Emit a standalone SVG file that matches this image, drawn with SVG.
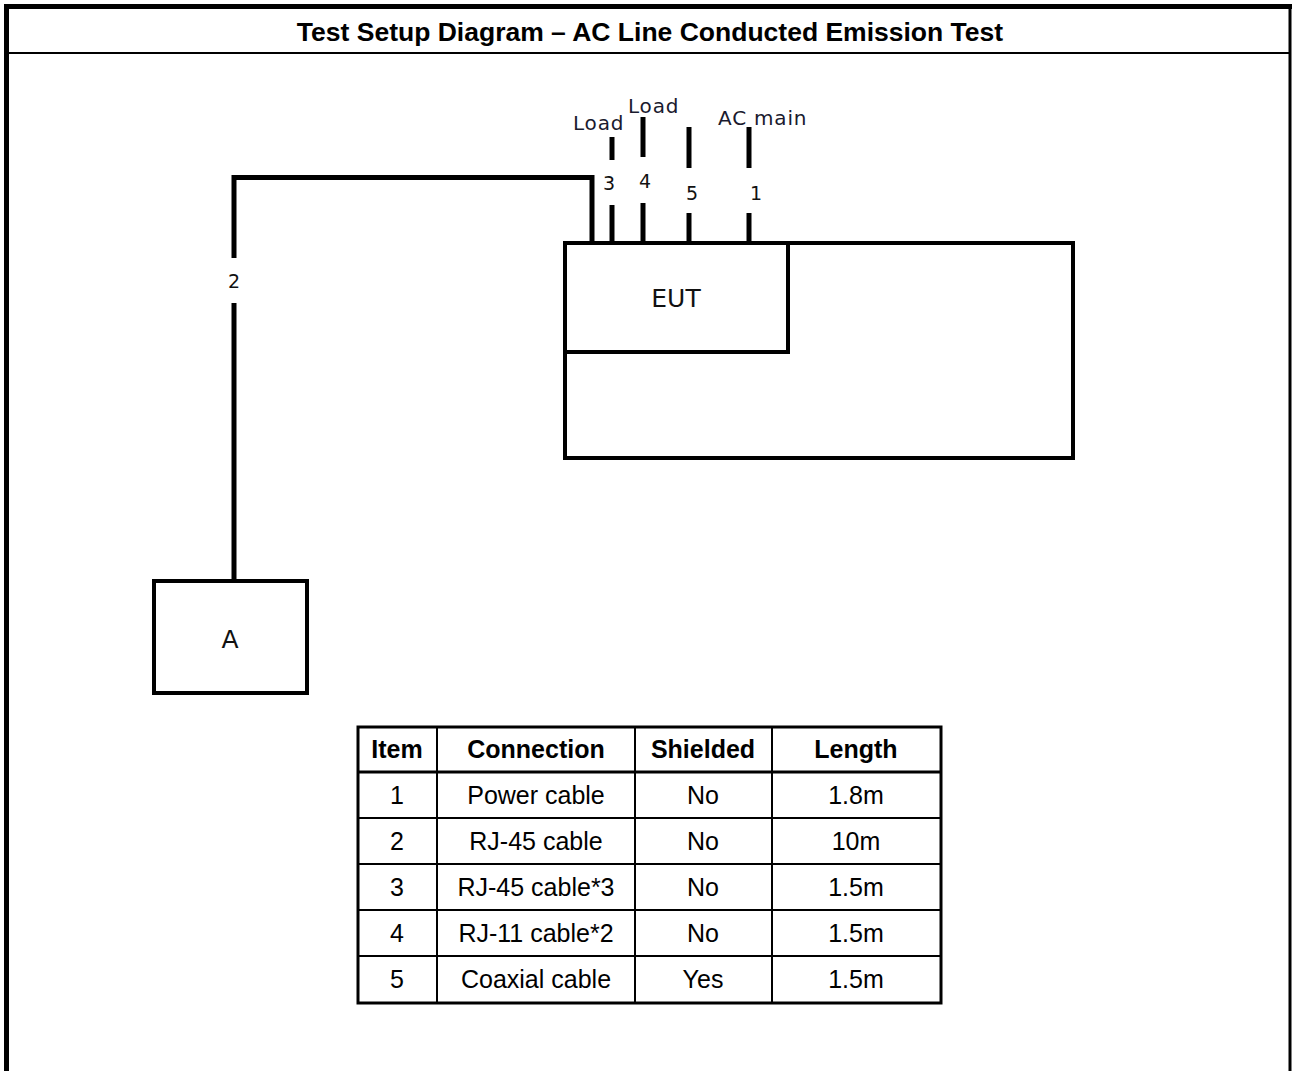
<svg xmlns="http://www.w3.org/2000/svg" width="1292" height="1071" viewBox="0 0 1292 1071">
<style>
.frame{stroke:#000;fill:none}
.cable{stroke:#000;stroke-width:5;fill:none}
.box{stroke:#000;stroke-width:4;fill:none}
.lbl{font-family:"DejaVu Sans",Verdana,sans-serif;font-size:20px;fill:#1a1a2e;letter-spacing:0.8px}
.num{font-family:"DejaVu Sans",Verdana,sans-serif;font-size:19px;fill:#111}
.big{font-family:"DejaVu Sans",Verdana,sans-serif;font-size:25px;fill:#111;text-anchor:middle}
.title{font-family:"Liberation Sans",Arial,sans-serif;font-size:26.5px;font-weight:bold;text-anchor:middle;fill:#000}
.th{font-family:"Liberation Sans",Arial,sans-serif;font-size:25px;font-weight:bold;text-anchor:middle;fill:#000}
.td{font-family:"Liberation Sans",Arial,sans-serif;font-size:25px;text-anchor:middle;fill:#000}
.grid{stroke:#000;stroke-width:2}
</style>
<rect width="1292" height="1071" fill="#fff"/>
<g id="frame">
<line class="frame" x1="6.5" y1="4" x2="6.5" y2="1071" stroke-width="5"/>
<line class="frame" x1="4" y1="6.5" x2="1292" y2="6.5" stroke-width="5"/>
<line class="frame" x1="1290" y1="4" x2="1290" y2="1071" stroke-width="3"/>
<line class="frame" x1="9" y1="53" x2="1289" y2="53" stroke-width="2"/>
<text class="title" x="650" y="41">Test Setup Diagram – AC Line Conducted Emission Test</text>
</g>
<g id="connectors">
<polyline class="cable" points="234,258 234,177.5 592,177.5 592,242"/>
<line class="cable" x1="234" y1="303" x2="234" y2="581"/>
<line class="cable" x1="612" y1="137" x2="612" y2="160"/>
<line class="cable" x1="612" y1="205" x2="612" y2="242"/>
<line class="cable" x1="643" y1="117" x2="643" y2="157"/>
<line class="cable" x1="643" y1="203" x2="643" y2="242"/>
<line class="cable" x1="689" y1="127" x2="689" y2="168"/>
<line class="cable" x1="689" y1="213" x2="689" y2="242"/>
<line class="cable" x1="749" y1="127" x2="749" y2="168"/>
<line class="cable" x1="749" y1="213" x2="749" y2="242"/>
<text class="num" x="234" y="288" text-anchor="middle">2</text>
<text class="num" x="609" y="190" text-anchor="middle">3</text>
<text class="num" x="645" y="188" text-anchor="middle">4</text>
<text class="num" x="692" y="200" text-anchor="middle">5</text>
<text class="num" x="756" y="200" text-anchor="middle">1</text>
<text class="lbl" x="573" y="130">Load</text>
<text class="lbl" x="628" y="113">Load</text>
<text class="lbl" x="718" y="125">AC main</text>
</g>
<g id="eut">
<rect class="box" x="565" y="243" width="508" height="215"/>
<rect class="box" x="565" y="243" width="223" height="109"/>
<text class="big" x="676" y="307">EUT</text>
</g>
<g id="node-a">
<rect class="box" x="154" y="581" width="153" height="112"/>
<text class="big" x="230" y="648">A</text>
</g>
<g id="table">
<rect x="358" y="727" width="583" height="276" fill="none" stroke="#000" stroke-width="3"/>
<line class="grid" x1="437" y1="727" x2="437" y2="1003"/>
<line class="grid" x1="635" y1="727" x2="635" y2="1003"/>
<line class="grid" x1="772" y1="727" x2="772" y2="1003"/>
<line x1="358" y1="772" x2="941" y2="772" stroke="#000" stroke-width="3"/>
<line class="grid" x1="358" y1="818" x2="941" y2="818"/>
<line class="grid" x1="358" y1="864" x2="941" y2="864"/>
<line class="grid" x1="358" y1="910" x2="941" y2="910"/>
<line class="grid" x1="358" y1="956" x2="941" y2="956"/>
<text class="th" x="397" y="758">Item</text>
<text class="th" x="536" y="758">Connection</text>
<text class="th" x="703" y="758">Shielded</text>
<text class="th" x="856" y="758">Length</text>
<text class="td" x="397" y="804">1</text>
<text class="td" x="536" y="804">Power cable</text>
<text class="td" x="703" y="804">No</text>
<text class="td" x="856" y="804">1.8m</text>
<text class="td" x="397" y="850">2</text>
<text class="td" x="536" y="850">RJ-45 cable</text>
<text class="td" x="703" y="850">No</text>
<text class="td" x="856" y="850">10m</text>
<text class="td" x="397" y="896">3</text>
<text class="td" x="536" y="896">RJ-45 cable*3</text>
<text class="td" x="703" y="896">No</text>
<text class="td" x="856" y="896">1.5m</text>
<text class="td" x="397" y="942">4</text>
<text class="td" x="536" y="942">RJ-11 cable*2</text>
<text class="td" x="703" y="942">No</text>
<text class="td" x="856" y="942">1.5m</text>
<text class="td" x="397" y="988">5</text>
<text class="td" x="536" y="988">Coaxial cable</text>
<text class="td" x="703" y="988">Yes</text>
<text class="td" x="856" y="988">1.5m</text>
</g>
</svg>
